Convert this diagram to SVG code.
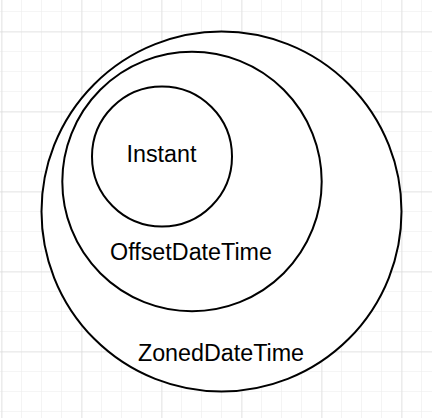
<svg xmlns="http://www.w3.org/2000/svg" width="432" height="418" viewBox="0 0 432 418">
  <defs>
    <pattern id="minor" x="1" y="11" width="20" height="20" patternUnits="userSpaceOnUse">
      <path d="M0 0 H20 M0 0 V20" fill="none" stroke="#ececec" stroke-width="1.2"/>
    </pattern>
    <pattern id="major" x="1.5" y="31.5" width="80" height="80" patternUnits="userSpaceOnUse">
      <path d="M0 0 H80 M0 0 V80" fill="none" stroke="#d3d3d3" stroke-width="1"/>
    </pattern>
  </defs>
  <style>
    .ring { fill: #ffffff; stroke: #000000; stroke-width: 2; }
    .label { font-family: "Liberation Sans", Arial, sans-serif; font-size: 23.3px; fill: #000000; text-anchor: middle; }
  </style>
  <rect width="432" height="418" fill="#ffffff"/>
  <rect width="432" height="418" fill="url(#minor)"/>
  <rect width="432" height="418" fill="url(#major)"/>
  <g id="zoned">
    <circle class="ring" cx="221.5" cy="211.5" r="180"/>
    <text class="label" x="221" y="360.5">ZonedDateTime</text>
  </g>
  <g id="offset">
    <circle class="ring" cx="192" cy="181.5" r="129.7"/>
    <text class="label" x="191" y="259.5">OffsetDateTime</text>
  </g>
  <g id="instant">
    <circle class="ring" cx="162" cy="156.5" r="70"/>
    <text class="label" x="161.5" y="161.7">Instant</text>
  </g>
  <g id="connectors"/>
</svg>
